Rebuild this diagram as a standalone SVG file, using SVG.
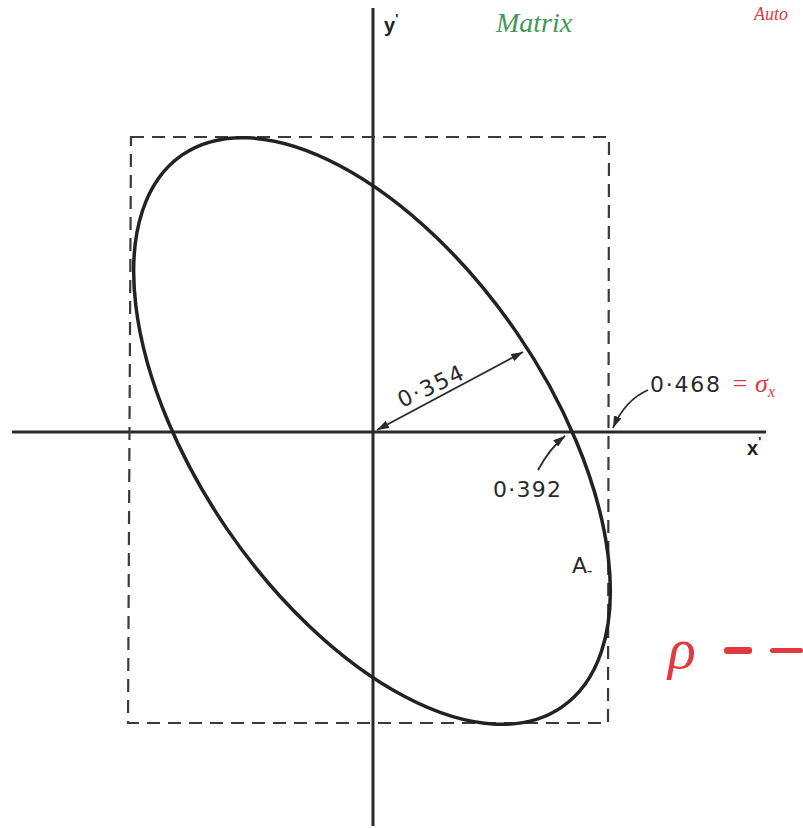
<svg xmlns="http://www.w3.org/2000/svg" width="803" height="828" viewBox="0 0 803 828">
<style>
.axis{stroke:#2a2a2a;stroke-width:3;fill:none}
.box{stroke:#3a3a3a;stroke-width:2.2;fill:none;stroke-dasharray:13 8}
.ell{stroke:#222;stroke-width:3.5;fill:none}
.dim{stroke:#2a2a2a;stroke-width:1.8;fill:none}
.lbl{font-family:"DejaVu Sans","Liberation Sans",sans-serif;font-size:22px;fill:#2a2a2a}
.ax{font-family:"Liberation Sans","DejaVu Sans",sans-serif;font-size:20px;font-weight:bold;fill:#222}
.red{font-family:"Liberation Serif","DejaVu Serif",serif;font-style:italic;fill:#e0393e}
.green{font-family:"Liberation Serif","DejaVu Serif",serif;font-style:italic;font-size:28px;fill:#3f9a55}
</style>
<defs>
<marker id="ah" viewBox="0 0 12 8" refX="12" refY="4" markerWidth="12" markerHeight="8" markerUnits="userSpaceOnUse" orient="auto-start-reverse">
<path d="M0,0 L12,4 L0,8 z" fill="#2a2a2a"/>
</marker>
</defs>
<rect width="803" height="828" fill="#ffffff"/>

<g id="axes">
<line class="axis" x1="12" y1="432" x2="766" y2="432"/>
<line class="axis" x1="373" y1="8" x2="373" y2="826"/>
<text class="ax" x="384" y="32">y<tspan font-size="13" dy="-9">'</tspan></text>
<text class="ax" x="747" y="455">x<tspan font-size="13" dy="-9">'</tspan></text>
</g>

<g id="bounding-box">
<path class="box" d="M131,137 L609,137 L608,723 L128,723 Z"/>
</g>

<g id="ellipse">
<ellipse class="ell" cx="372" cy="431" rx="335" ry="175" transform="rotate(55.5 372 431)"/>
<text class="lbl" x="572" y="573" font-size="21">A<tspan font-size="15" dy="3">-</tspan></text>
</g>

<g id="connectors">
<line class="dim" x1="377" y1="430" x2="523" y2="352" marker-start="url(#ah)" marker-end="url(#ah)"/>
<path class="dim" d="M648,390 Q625,400 613,428" marker-end="url(#ah)"/>
<path class="dim" d="M538,470 Q550,448 565,436" marker-end="url(#ah)"/>
</g>

<g id="label-minor">
<text class="lbl" x="0" y="0" transform="translate(402,408) rotate(-25)" textLength="70">0·354</text>
</g>
<g id="label-sigma">
<text class="lbl" x="650" y="392" textLength="70">0·468</text>
<text class="red" x="731" y="392" font-size="26">= σ<tspan font-size="16" dy="5">x</tspan></text>
</g>
<g id="label-crossing">
<text class="lbl" x="493" y="497" textLength="68">0·392</text>
</g>

<g id="annotations">
<text class="green" x="496" y="32">Matrix</text>
<text class="red" x="754" y="20" font-size="18">Auto</text>
<text class="red" x="668" y="668" font-size="58">ρ</text>
<rect x="724" y="647" width="28" height="7" rx="3" fill="#e0393e"/>
<rect x="770" y="648" width="33" height="5" rx="2.5" fill="#e0393e"/>
</g>
</svg>
